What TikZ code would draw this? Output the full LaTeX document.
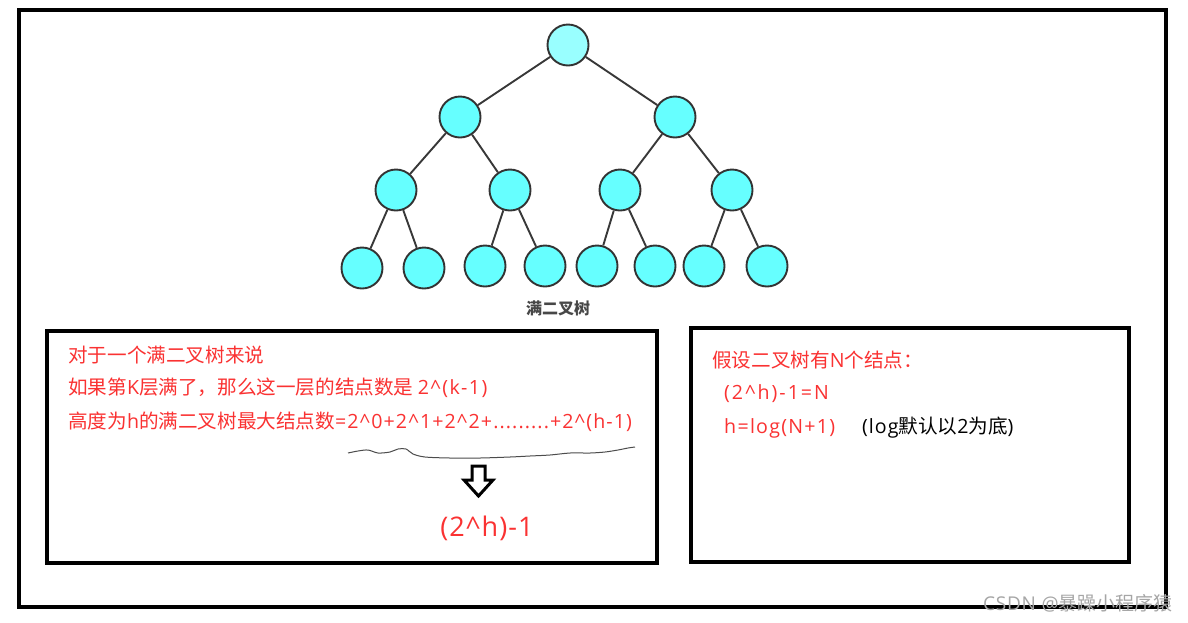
\documentclass[tikz,border=0pt]{standalone}
\usepackage{fontspec}
\setmainfont{Noto Sans CJK SC}
\newfontfamily\cjk{Noto Sans CJK SC}
\newfontfamily\lat{Open Sans}
\newcommand\lsp[2]{{\lat\addfontfeature{LetterSpace=#1}#2}}
\definecolor{nodec}{HTML}{66FFFF}
\definecolor{rootc}{HTML}{99FFFF}
\definecolor{redc}{HTML}{FA3232}
\begin{document}
\begin{tikzpicture}[x=1pt,y=-1pt,
  tn/.style={circle,draw=black!80,line width=1.9pt,fill=nodec,minimum size=41pt,inner sep=0pt},
  tr/.style={tn,fill=rootc},
  edge/.style={draw=black!78,line width=1.9pt},
  frame/.style={draw=black,line width=3.5pt},
  redtxt/.style={anchor=west,text=redc,font=\cjk\fontsize{19.6}{21}\selectfont,inner sep=0pt},
  blktxt/.style={anchor=west,text=black,font=\cjk\fontsize{19.6}{21}\selectfont,inner sep=0pt}]
\useasboundingbox (0,0) rectangle (1188,622);
\fill[white] (0,0) rectangle (1188,622);
% outer frame
\draw[frame] (19,10) rectangle (1166,607);
% tree
\node[tr] (r) at (568,45) {};
\node[tn] (a) at (460,117) {};
\node[tn] (b) at (675,117) {};
\node[tn] (a1) at (396,190) {};
\node[tn] (a2) at (510,190) {};
\node[tn] (b1) at (620,190) {};
\node[tn] (b2) at (732,190) {};
\node[tn] (l1) at (362,268) {};
\node[tn] (l2) at (424,268) {};
\node[tn] (l3) at (485,266) {};
\node[tn] (l4) at (545,266) {};
\node[tn] (l5) at (597,266) {};
\node[tn] (l6) at (655,266) {};
\node[tn] (l7) at (704,266) {};
\node[tn] (l8) at (767,266) {};
\foreach \p/\c in {r/a,r/b,a/a1,a/a2,b/b1,b/b2,a1/l1,a1/l2,a2/l3,a2/l4,b1/l5,b1/l6,b2/l7,b2/l8}
  \draw[edge] (\p) -- (\c);
\node[font=\cjk\bfseries\fontsize{16}{18}\selectfont,text=black!72] (cap) at (558,308) {满二叉树};
% left box
\draw[frame] (47,331) rectangle (657,563);
\node[redtxt] (t1) at (68,355) {对于一个满二叉树来说};
\node[redtxt] (t2) at (68,388) {如果第\lsp{5}{K}层满了，那么这一层的结点数是 \lsp{7}{2\^{}(k-1)}};
\node[redtxt] (t3) at (68,422) {高度为{\lat h}的满二叉树最大结点数\lsp{5.6}{=2\^{}0+2\^{}1+2\^{}2+.........+2\^{}(h-1)}};
\draw[black!70,line width=1pt] plot[smooth] coordinates {(348,453) (358,451) (368,450) (378,453) (390,452) (398,449) (406,449) (413,454) (425,457) (450,458) (480,458) (510,457) (530,456) (550,455) (570,453) (590,453) (605,452) (618,450) (628,448) (635,447)};
\draw[black,line width=3pt,line join=miter]
  (472,466) -- (485,466) -- (485,480) -- (493,480) -- (478.5,496) -- (464,480) -- (472,480) -- cycle;
\node[text=redc,font=\lat\fontsize{27}{30}\selectfont] (res) at (487,528) {\lsp{4}{(2\^{}h)-1}};
% right box
\draw[frame] (691,328) rectangle (1129,562);
\node[redtxt] (s1) at (712,360) {假设二叉树有{\lat N}个结点：};
\node[redtxt] (s2) at (724,394) {\lsp{10}{(2\^{}h)-1=N}};
\node[redtxt] (s3) at (724,428) {\lsp{6.5}{h=log(N+1)}};
\node[blktxt] (s4) at (862,428) {\lsp{5}{(log}默认以\lsp{5}{2}为底\lsp{5}{)}};
% watermark
\node[anchor=east,text=black!35,font=\cjk\fontsize{19}{20}\selectfont,inner sep=0pt] (wm) at (1173,603) {\lsp{4}{CSDN @}暴躁小程序猿};
\end{tikzpicture}
\end{document}
